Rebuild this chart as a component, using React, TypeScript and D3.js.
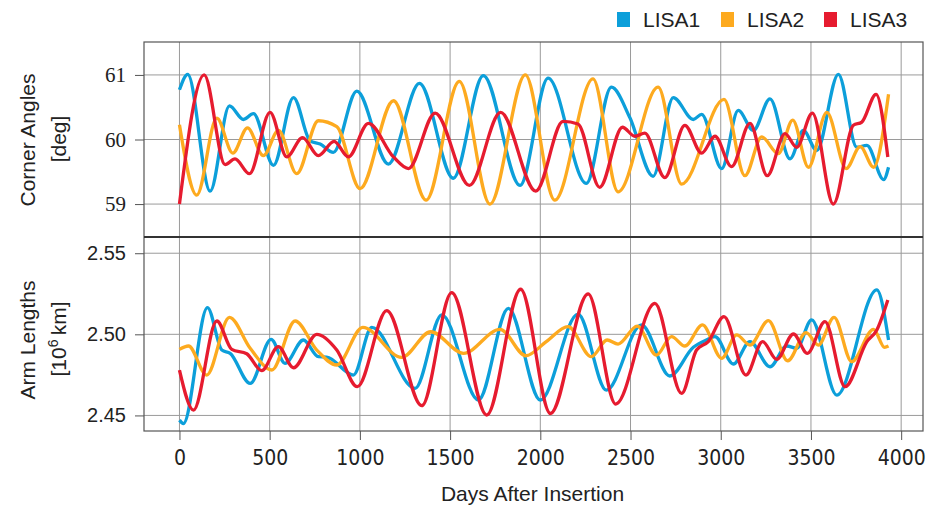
import React, { useEffect, useRef } from "react";
import * as d3 from "d3";

// tick values
const xTicks = [0, 500, 1000, 1500, 2000, 2500, 3000, 3500, 4000];
const angleTicks = [59, 60, 61];
const lengthTicks = [2.45, 2.5, 2.55];

const seriesNames = ["LISA1", "LISA2", "LISA3"];
const seriesColors = ["#0c9fda", "#fdaa1f", "#e61b2f"];

// corner angles [deg] vs days
const lisa1Angle = [
  [0, 60.77], [46, 61.01], [170, 59.2], [277, 60.52], [355, 60.31], [410, 60.4],
  [521, 59.6], [632, 60.65], [724, 59.98], [780, 59.93], [853, 59.8], [983, 60.75],
  [1158, 59.62], [1330, 60.87], [1518, 59.4], [1684, 60.99], [1888, 59.29],
  [2043, 60.95], [2255, 59.32], [2394, 60.81], [2496, 60.34], [2625, 59.43],
  [2737, 60.65], [2848, 60.31], [2894, 60.39], [3005, 59.55], [3097, 60.45],
  [3181, 60.14], [3273, 60.63], [3384, 59.7], [3458, 60.14], [3532, 59.83],
  [3652, 61.01], [3754, 59.88], [3810, 59.91], [3903, 59.38], [3930, 59.57],
];
const lisa2Angle = [
  [0, 60.23], [96, 59.14], [207, 60.33], [296, 59.79], [377, 60.18], [465, 59.75],
  [549, 60.14], [650, 59.47], [770, 60.29], [872, 60.2], [1001, 59.24], [1186, 60.6],
  [1367, 59.06], [1551, 60.9], [1721, 59.0], [1917, 61.0], [2080, 59.06],
  [2292, 60.94], [2431, 59.19], [2653, 60.81], [2783, 59.31], [3018, 60.62],
  [3134, 59.44], [3227, 60.04], [3319, 59.78], [3399, 60.3], [3486, 59.57],
  [3588, 60.42], [3695, 59.55], [3773, 59.89], [3847, 59.57], [3930, 60.7],
];
const lisa3Angle = [
  [0, 59.0], [137, 61.0], [253, 59.61], [308, 59.7], [388, 59.47], [502, 60.42],
  [595, 59.73], [682, 60.03], [770, 59.75], [857, 59.97], [936, 59.73], [1047, 60.25],
  [1186, 59.73], [1269, 59.55], [1417, 60.41], [1607, 59.29], [1780, 60.42],
  [1975, 59.2], [2126, 60.28], [2209, 60.24], [2329, 59.26], [2455, 60.19],
  [2524, 60.05], [2579, 60.1], [2690, 59.41], [2801, 60.22], [2894, 59.79],
  [2968, 60.05], [3060, 59.58], [3162, 60.25], [3258, 59.44], [3356, 60.09],
  [3421, 59.88], [3508, 60.41], [3624, 59.0], [3735, 60.22], [3782, 60.27],
  [3861, 60.7], [3926, 59.73],
];

// arm lengths [10^6 km] vs days
const lisa1Length = [
  [0, 2.4471], [22, 2.445], [155, 2.5165], [235, 2.4903], [281, 2.4883], [392, 2.4697],
  [508, 2.4969], [585, 2.4821], [687, 2.4965], [770, 2.4862], [816, 2.486],
  [964, 2.4749], [1066, 2.5043], [1306, 2.4667], [1454, 2.512], [1657, 2.4595],
  [1823, 2.516], [2000, 2.4595], [2209, 2.5125], [2366, 2.4656], [2561, 2.5058],
  [2718, 2.4743], [2848, 2.492], [2921, 2.4965], [2968, 2.4986], [3070, 2.4817],
  [3162, 2.4955], [3273, 2.48], [3366, 2.4928], [3421, 2.4914], [3504, 2.5089],
  [3643, 2.4625], [3865, 2.5274], [3930, 2.4965],
];
const lisa2Length = [
  [0, 2.4907], [50, 2.4928], [151, 2.4749], [277, 2.5105], [392, 2.4914], [512, 2.478],
  [641, 2.5082], [761, 2.4903], [872, 2.4811], [1016, 2.5043], [1232, 2.4858],
  [1393, 2.5016], [1574, 2.4883], [1777, 2.5031], [1920, 2.4868], [2033, 2.4955],
  [2154, 2.5047], [2283, 2.4862], [2370, 2.4965], [2431, 2.494], [2537, 2.5051],
  [2644, 2.4872], [2727, 2.4986], [2801, 2.4928], [2899, 2.5058], [3005, 2.4852],
  [3088, 2.4996], [3162, 2.4934], [3264, 2.5084], [3371, 2.4837], [3473, 2.501],
  [3541, 2.4934], [3628, 2.5105], [3726, 2.4831], [3847, 2.5031], [3908, 2.492],
  [3930, 2.4928],
];
const lisa3Length = [
  [0, 2.478], [78, 2.4533], [207, 2.5082], [290, 2.4907], [373, 2.488], [456, 2.4776],
  [548, 2.4924], [632, 2.4794], [761, 2.5], [872, 2.4903], [986, 2.4677],
  [1149, 2.5146], [1343, 2.456], [1509, 2.5257], [1703, 2.4502], [1891, 2.5278],
  [2056, 2.4512], [2265, 2.5249], [2418, 2.457], [2635, 2.5191], [2783, 2.4636],
  [2866, 2.4903], [2931, 2.4955], [3018, 2.5109], [3140, 2.4749], [3232, 2.4955],
  [3310, 2.4846], [3403, 2.5002], [3480, 2.4883], [3578, 2.5078], [3689, 2.4677],
  [3810, 2.4955], [3865, 2.5027], [3926, 2.5212],
];

const angleSeries = [lisa1Angle, lisa2Angle, lisa3Angle];
const lengthSeries = [lisa1Length, lisa2Length, lisa3Length];

const sans = "'Liberation Sans', Arial, sans-serif";
const serif = "'Liberation Serif', 'Times New Roman', serif";
const narrow = "'DejaVu Sans Condensed', 'Liberation Sans Narrow', 'Liberation Sans', sans-serif";

export default function App() {
  const ref = useRef<SVGSVGElement>(null);

  useEffect(() => {
    const svg = d3.select(ref.current);
    svg.selectAll("*").remove();

    const left = 144;
    const right = 923;
    const topY = 42;
    const midY = 237;
    const bottomY = 431;

    const x = d3.scaleLinear().domain([-196.5, 4121]).range([left, right]);
    const yAngle = d3.scaleLinear().domain([58.49, 61.51]).range([midY, topY]);
    const yLength = d3.scaleLinear().domain([2.4404, 2.56]).range([bottomY, midY]);

    const grid = svg.append("g").attr("stroke", "#9a9a9a").attr("stroke-width", 1);
    xTicks.forEach((t) => {
      grid.append("line")
        .attr("x1", x(t)).attr("x2", x(t))
        .attr("y1", topY).attr("y2", bottomY);
    });
    angleTicks.forEach((t) => {
      grid.append("line")
        .attr("x1", left).attr("x2", right)
        .attr("y1", yAngle(t)).attr("y2", yAngle(t));
    });
    lengthTicks.forEach((t) => {
      grid.append("line")
        .attr("x1", left).attr("x2", right)
        .attr("y1", yLength(t)).attr("y2", yLength(t));
    });

    // frames
    svg.append("rect")
      .attr("x", left).attr("y", topY)
      .attr("width", right - left).attr("height", bottomY - topY)
      .attr("fill", "none").attr("stroke", "#555").attr("stroke-width", 1.2);
    svg.append("line")
      .attr("x1", left).attr("x2", right)
      .attr("y1", midY).attr("y2", midY)
      .attr("stroke", "#333").attr("stroke-width", 2);

    // axes
    const yAxisTop = svg.append("g")
      .attr("transform", `translate(${left},0)`)
      .call(d3.axisLeft(yAngle).tickValues(angleTicks).tickSize(9).tickPadding(9).tickFormat(d3.format("d")));
    yAxisTop.select(".domain").remove();
    yAxisTop.selectAll("line").attr("stroke", "#555");
    yAxisTop.selectAll("text").attr("font-family", serif).attr("font-size", 21).attr("fill", "#222");

    const yAxisBottom = svg.append("g")
      .attr("transform", `translate(${left},0)`)
      .call(d3.axisLeft(yLength).tickValues(lengthTicks).tickSize(9).tickPadding(9).tickFormat(d3.format(".2f")));
    yAxisBottom.select(".domain").remove();
    yAxisBottom.selectAll("line").attr("stroke", "#555");
    yAxisBottom.selectAll("text").attr("font-family", sans).attr("font-size", 20).attr("fill", "#222");

    const xAxis = svg.append("g")
      .attr("transform", `translate(0,${bottomY})`)
      .call(d3.axisBottom(x).tickValues(xTicks).tickSize(9).tickPadding(10).tickFormat(d3.format("d")));
    xAxis.select(".domain").remove();
    xAxis.selectAll("line").attr("stroke", "#555");
    xAxis.selectAll("text").attr("font-family", narrow).attr("font-size", 21).attr("fill", "#222");

    // curves
    const angleLine = d3.line<number[]>()
      .x((d) => x(d[0]))
      .y((d) => yAngle(d[1]))
      .curve(d3.curveMonotoneX);
    const lengthLine = d3.line<number[]>()
      .x((d) => x(d[0]))
      .y((d) => yLength(d[1]))
      .curve(d3.curveMonotoneX);

    angleSeries.forEach((s, i) => {
      svg.append("path")
        .attr("d", angleLine(s))
        .attr("fill", "none")
        .attr("stroke", seriesColors[i])
        .attr("stroke-width", 3.3)
        .attr("stroke-linejoin", "round");
    });
    lengthSeries.forEach((s, i) => {
      svg.append("path")
        .attr("d", lengthLine(s))
        .attr("fill", "none")
        .attr("stroke", seriesColors[i])
        .attr("stroke-width", 3.3)
        .attr("stroke-linejoin", "round");
    });

    // axis labels
    svg.append("text")
      .attr("transform", "translate(35,140) rotate(-90)")
      .attr("text-anchor", "middle")
      .attr("font-family", sans).attr("font-size", 21).attr("fill", "#222")
      .text("Corner Angles");
    svg.append("text")
      .attr("transform", "translate(66,139) rotate(-90)")
      .attr("text-anchor", "middle")
      .attr("font-family", sans).attr("font-size", 21).attr("fill", "#222")
      .text("[deg]");

    svg.append("text")
      .attr("transform", "translate(35,340) rotate(-90)")
      .attr("text-anchor", "middle")
      .attr("font-family", sans).attr("font-size", 21).attr("fill", "#222")
      .text("Arm Lengths");
    const unit = svg.append("text")
      .attr("transform", "translate(66,339) rotate(-90)")
      .attr("text-anchor", "middle")
      .attr("font-family", sans).attr("font-size", 21).attr("fill", "#222");
    unit.append("tspan").text("[10");
    unit.append("tspan").attr("baseline-shift", "super").attr("font-size", 14).text("6");
    unit.append("tspan").text("\u2009km]");

    svg.append("text")
      .attr("x", (left + right) / 2 - 1)
      .attr("y", 501)
      .attr("text-anchor", "middle")
      .attr("font-family", sans).attr("font-size", 21).attr("fill", "#222")
      .text("Days After Insertion");

    // legend
    const legendX = [617, 721, 824];
    seriesNames.forEach((name, i) => {
      const g = svg.append("g").attr("transform", `translate(${legendX[i]},0)`);
      g.append("rect")
        .attr("x", 0).attr("y", 12)
        .attr("width", 13).attr("height", 15)
        .attr("fill", seriesColors[i]);
      g.append("text")
        .attr("x", 26).attr("y", 27)
        .attr("font-family", sans).attr("font-size", 21).attr("fill", "#222")
        .text(name);
    });
  }, []);

  return (
    <svg
      ref={ref}
      width={930}
      height={509}
      style={{ position: "absolute", left: 0, top: 0, background: "#fff", display: "block" }}
    />
  );
}
